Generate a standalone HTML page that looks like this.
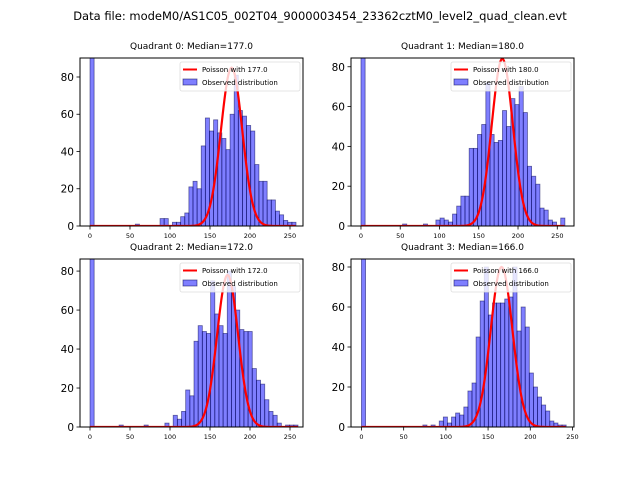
<!DOCTYPE html>
<html><head><meta charset="utf-8"><style>
body{margin:0;background:#fff}
svg{display:block;font-family:"DejaVu Sans","Liberation Sans",sans-serif}
</style></head><body>
<svg id="fig" width="640" height="480">
<text x="320" y="20" font-size="11.5" text-anchor="middle">Data file: modeM0/AS1C05_002T04_9000003454_23362cztM0_level2_quad_clean.evt</text>
</svg>
<script>
// data
const medians = [177.0, 180.0, 172.0, 166.0];
const curvePeaks = [85, 84, 78, 80];
const binWidths = [5.15, 5.3, 5.2, 4.85];
const yTicks = [0, 20, 40, 60, 80];
const xTicks = [0, 50, 100, 150, 200, 250];
const counts0 = [250,0,0,0,0,0,0,0,0,0,0,1,0,0,0,0,0,4,4,0,2,2,5,7,21,24,20,43,58,51,57,50,47,41,60,81,62,59,54,51,33,24,24,14,14,8,6,3,2,2];
const counts1 = [250,0,0,0,0,0,0,0,0,0,1,0,0,0,0,1,0,0,3,4,3,2,6,10,15,15,39,39,46,51,72,46,42,43,58,50,64,61,70,57,30,25,21,9,8,3,2,0,4];
const counts2 = [250,0,0,0,0,0,0,1,0,0,0,0,0,1,0,0,0,0,2,0,6,4,8,19,16,44,52,49,48,75,58,52,48,80,72,60,50,49,49,30,24,22,14,8,6,2,0,1,1,1];
const counts3 = [250,0,0,0,0,0,0,0,0,0,0,0,0,0,0,1,0,1,0,3,5,2,5,7,6,10,18,22,45,63,80,56,62,62,62,64,65,80,48,60,50,27,20,15,11,8,3,2,1,1];
const allCounts = [counts0, counts1, counts2, counts3];

const NS = "http://www.w3.org/2000/svg";
const svg = document.getElementById('fig');
const boxes = [[80,58,303,226],[351,58,574,226],[80,259,303,427],[351,259,574,427]];
const xDom = [[-12.5,266.25],[-12.7,271.3],[-12.5,266.25],[-12.4,251.8]];
const yMax = [90.2,84.4,86.2,84];
function mk(tag, attrs, parent){const e=document.createElementNS(NS,tag);for(const k in attrs)e.setAttribute(k,attrs[k]);(parent||svg).appendChild(e);return e;}

for(let q=0;q<4;q++){
  const [x0,y0,x1,y1]=boxes[q];
  const xs=v=>x0+(v-xDom[q][0])/(xDom[q][1]-xDom[q][0])*(x1-x0);
  const ys=v=>y1-v/yMax[q]*(y1-y0);
  const g=mk('g',{});
  
  
  const defs=mk('defs',{},g);
  const cp=mk('clipPath',{id:'c'+q},defs);
  mk('rect',{x:x0,y:y0,width:x1-x0,height:y1-y0},cp);
  const title=mk('text',{x:(x0+x1)/2,y:y0-9,'font-size':'9','text-anchor':'middle'},g);
  title.textContent='Quadrant '+q+': Median='+medians[q].toFixed(1);
  
  
  const plot=mk('g',{'clip-path':'url(#c'+q+')'},g);
  const bw=binWidths[q];
  allCounts[q].forEach((c,i)=>{
    if(c<=0)return;
    const r=mk('rect',{x:xs(i*bw),y:ys(c),width:xs((i+1)*bw)-xs(i*bw),height:ys(0)-ys(c),fill:'rgba(0,0,255,0.5)',stroke:'rgba(0,0,80,0.55)','stroke-width':'0.8'},plot);
    
    
  });
  const lam=medians[q];
  let d='';
  for(let k=0;k<=allCounts[q].length*bw;k+=1){
    const v=curvePeaks[q]*Math.exp(-(k-lam)*(k-lam)/(2*lam));
    d+=(k?'L':'M')+xs(k).toFixed(2)+','+ys(v).toFixed(2);
  }
  const pl=mk('path',{d:d,fill:'none',stroke:'red','stroke-width':'2.2'},plot);
  
  
  const fr=mk('rect',{x:x0,y:y0,width:x1-x0,height:y1-y0,fill:'none',stroke:'#000','stroke-width':'1'},g);
  
  
  yTicks.forEach(t=>{
    const y=ys(t);
    mk('line',{x1:x0-3.5,x2:x0,y1:y,y2:y,stroke:'#000','stroke-width':'0.8'},g);
    const tx=mk('text',{x:x0-6,y:y+4,'font-size':'10.5','text-anchor':'end'},g);
    tx.textContent=t;
    
    
  });
  xTicks.forEach(t=>{
    const x=xs(t);
    mk('line',{x1:x,x2:x,y1:y1,y2:y1+3.5,stroke:'#000','stroke-width':'0.8'},g);
    const tx=mk('text',{x:x,y:y1+12,'font-size':'6.5','text-anchor':'middle'},g);
    tx.textContent=t;
    
    
  });
  const lg=mk('g',{},g);
  
  
  const lx=x1-123, ly=y0+4;
  mk('rect',{x:lx,y:ly,width:120,height:29,fill:'rgba(255,255,255,0.8)',stroke:'#ddd','stroke-width':'0.8',rx:'2'},lg);
  mk('line',{x1:lx+3,x2:lx+17,y1:ly+7.5,y2:ly+7.5,stroke:'red','stroke-width':'2'},lg);
  const t1=mk('text',{x:lx+22,y:ly+10,'font-size':'7'},lg);
  t1.textContent='Poisson with '+medians[q].toFixed(1);
  
  
  mk('rect',{x:lx+3,y:ly+17,width:14,height:6,fill:'rgba(0,0,255,0.5)',stroke:'rgba(0,0,80,0.6)','stroke-width':'0.8'},lg);
  const t2=mk('text',{x:lx+22,y:ly+23,'font-size':'7'},lg);
  t2.textContent='Observed distribution';
  
  
}
</script>
</body></html>
